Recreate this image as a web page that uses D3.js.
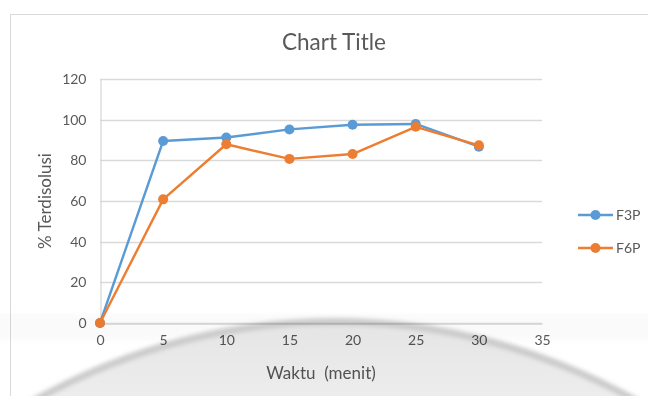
<!DOCTYPE html>
<html>
<head>
<meta charset="utf-8">
<script src="https://cdn.jsdelivr.net/npm/d3@7"></script>
<style>
  html, body { margin: 0; padding: 0; background: #fff; }
  svg { display: block; font-family: Lato, "Open Sans", sans-serif; }
</style>
</head>
<body>
<svg id="chart" width="648" height="396"></svg>
<script>
// Dissolution profile: % dissolved vs time (minutes)
const times = [0, 5, 10, 15, 20, 25, 30];
const f3p = [0, 89.5, 91.2, 95.2, 97.5, 97.9, 86.7];
const f6p = [0, 60.8, 87.9, 80.7, 83.1, 96.5, 87.4];
const seriesNames = ["F3P", "F6P"];
const seriesColors = ["#5b9bd5", "#ed7d31"];
const xTicks = [0, 5, 10, 15, 20, 25, 30, 35];
const yTicks = [0, 20, 40, 60, 80, 100, 120];

const svg = d3.select("#chart");
const W = 648, H = 396;
const textColor = "#595959";

// outer chart frame
svg.append("rect")
  .attr("x", 10.5).attr("y", 14.5)
  .attr("width", 700).attr("height", 500)
  .attr("fill", "#fff").attr("stroke", "#d9d9d9");

const plot = { left: 100, right: 542, top: 79, bottom: 323 };

const x = d3.scaleLinear().domain([0, 35]).range([plot.left, plot.right]);
const y = d3.scaleLinear().domain([0, 120]).range([plot.bottom, plot.top]);

// horizontal gridlines
svg.append("g")
  .selectAll("line")
  .data(yTicks)
  .join("line")
  .attr("x1", plot.left).attr("x2", plot.right)
  .attr("y1", d => Math.round(y(d)) + 0.5).attr("y2", d => Math.round(y(d)) + 0.5)
  .attr("stroke", "#d9d9d9").attr("stroke-width", 1.3);

// y axis
const yAxis = svg.append("g")
  .attr("transform", `translate(${plot.left + 0.5},0)`)
  .call(d3.axisLeft(y).tickValues(yTicks).tickSize(0).tickPadding(14));
yAxis.select(".domain").attr("stroke", "#d9d9d9").attr("stroke-width", 1.3);
yAxis.selectAll("text")
  .attr("fill", textColor).attr("font-size", 14)
  .attr("font-family", "Lato, sans-serif");

// x axis
const xAxis = svg.append("g")
  .attr("transform", `translate(0,${Math.round(y(0)) + 0.5})`)
  .call(d3.axisBottom(x).tickValues(xTicks).tickSize(0).tickPadding(12));
xAxis.select(".domain").attr("stroke", "#d9d9d9").attr("stroke-width", 1.3);
xAxis.selectAll("text")
  .attr("fill", textColor).attr("font-size", 14)
  .attr("font-family", "Lato, sans-serif");

// title
svg.append("text")
  .attr("x", 334).attr("y", 50)
  .attr("text-anchor", "middle")
  .attr("fill", textColor).attr("font-size", 22.5)
  .text("Chart Title");

// axis titles
svg.append("text")
  .attr("transform", "translate(51,201) rotate(-90)")
  .attr("text-anchor", "middle")
  .attr("fill", textColor).attr("font-size", 17)
  .text("% Terdisolusi");

svg.append("text")
  .attr("x", 321).attr("y", 379)
  .attr("text-anchor", "middle")
  .attr("fill", textColor).attr("font-size", 17)
  .attr("xml:space", "preserve")
  .style("white-space", "pre")
  .text("Waktu  (menit)");

// series lines and markers
const seriesData = [f3p, f6p];
const line = d3.line().x((d, i) => x(times[i])).y(d => y(d));

seriesData.forEach((vals, s) => {
  const g = svg.append("g");
  g.append("path")
    .datum(vals)
    .attr("d", line)
    .attr("fill", "none")
    .attr("stroke", seriesColors[s])
    .attr("stroke-width", 2.4)
    .attr("stroke-linejoin", "round");
  g.selectAll("circle")
    .data(vals)
    .join("circle")
    .attr("cx", (d, i) => x(times[i]))
    .attr("cy", d => y(d))
    .attr("r", 5)
    .attr("fill", seriesColors[s]);
});

// legend
const legend = svg.append("g");
seriesNames.forEach((name, i) => {
  const ly = 215 + i * 33;
  legend.append("line")
    .attr("x1", 578).attr("x2", 613)
    .attr("y1", ly).attr("y2", ly)
    .attr("stroke", seriesColors[i]).attr("stroke-width", 2.4);
  legend.append("circle")
    .attr("cx", 595.5).attr("cy", ly).attr("r", 5)
    .attr("fill", seriesColors[i]);
  legend.append("text")
    .attr("x", 616).attr("y", ly + 5)
    .attr("fill", textColor).attr("font-size", 14)
    .text(name);
});

// curved grey shading across the lower part of the page
const defs = svg.append("defs");
defs.append("filter").attr("id", "soft")
  .attr("x", "-10%").attr("y", "-10%").attr("width", "120%").attr("height", "120%")
  .append("feGaussianBlur").attr("stdDeviation", 2.2);
const grad = defs.append("linearGradient").attr("id", "shade")
  .attr("x1", 0).attr("y1", 0).attr("x2", 0).attr("y2", 1);
grad.append("stop").attr("offset", "0%").attr("stop-color", "#e4e4e4");
grad.append("stop").attr("offset", "8%").attr("stop-color", "#efefef");
grad.append("stop").attr("offset", "100%").attr("stop-color", "#e9e9e9");

const shade = svg.append("g").style("mix-blend-mode", "multiply");
// faint horizontal haze above the curve
shade.append("rect")
  .attr("x", -40).attr("y", 314).attr("width", W + 80).attr("height", 26)
  .attr("fill", "#fafafa").attr("filter", "url(#soft)");
shade.append("circle")
  .attr("cx", 335).attr("cy", 934).attr("r", 616)
  .attr("fill", "url(#shade)").attr("filter", "url(#soft)");
shade.append("circle")
  .attr("cx", 335).attr("cy", 934).attr("r", 612)
  .attr("fill", "none").attr("stroke", "#c9c9c9").attr("stroke-width", 6)
  .attr("filter", "url(#soft)");
</script>
</body>
</html>
